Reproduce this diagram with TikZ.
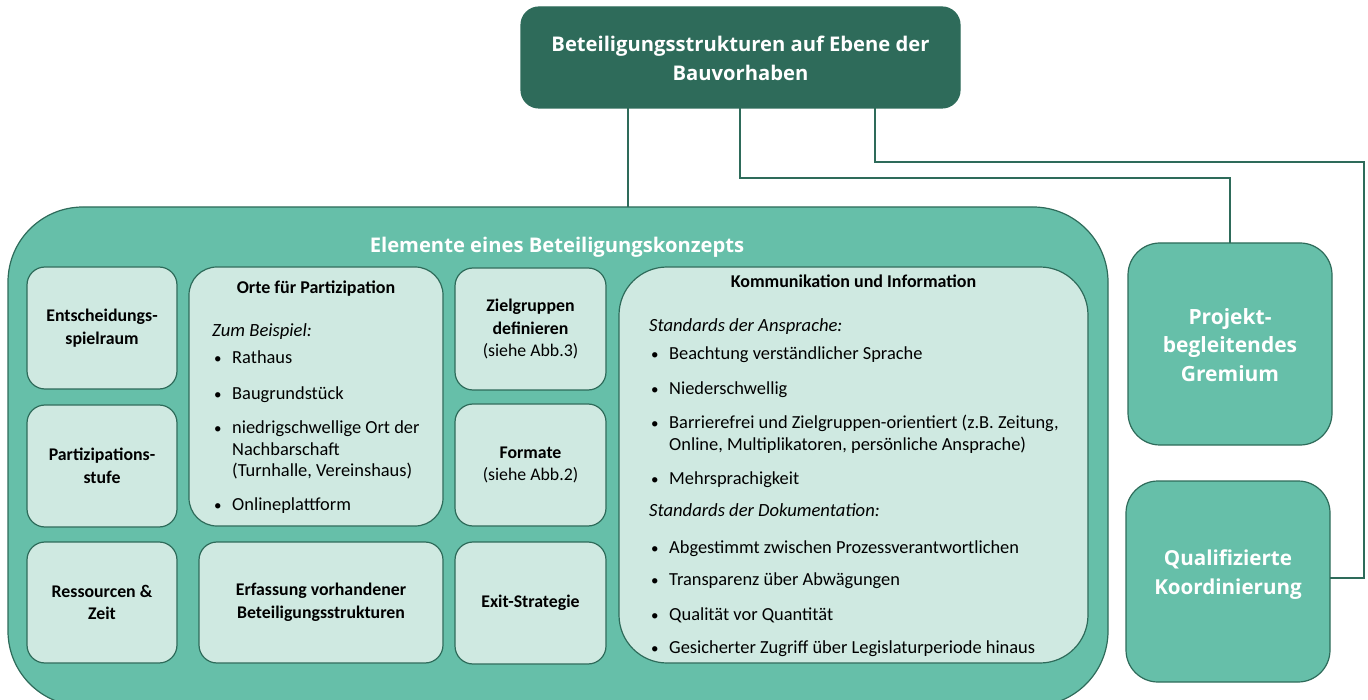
\documentclass[tikz,border=0pt]{standalone}
\usepackage{fontspec}
\setmainfont{Carlito}
\newfontfamily\headfont{Open Sans}
\usetikzlibrary{calc}
\definecolor{dkg}{HTML}{2E6B5A}
\definecolor{mdg}{HTML}{66BFA9}
\definecolor{ltg}{HTML}{CFE9E1}
\begin{document}
\begin{tikzpicture}[x=1pt,y=-1pt,
  base/.style={draw=dkg, line width=1.2pt, inner sep=0pt, outer sep=0pt},
  inbox/.style={base, fill=ltg, rounded corners=18pt, align=center,
    font=\bfseries\fontsize{17.8}{22.5}\selectfont, text=black},
  greenbox/.style={base, fill=mdg, rounded corners=32pt},
  whitetitle/.style={align=center, text=white, inner sep=0pt,
    font=\headfont\bfseries\fontsize{20.2}{29}\selectfont},
  conn/.style={draw=dkg, line width=1.3pt},
  item/.style={anchor=base west, inner sep=0pt, font=\fontsize{18.4}{22}\selectfont},
  bul/.style={anchor=base west, inner sep=0pt, font=\fontsize{15}{22}\selectfont},
  itit/.style={anchor=base west, inner sep=0pt, font=\itshape\fontsize{18.6}{22}\selectfont},
  subtitle/.style={anchor=base, inner sep=0pt, font=\bfseries\fontsize{18}{22}\selectfont}]
\clip (0,0) rectangle (1368,700);
\useasboundingbox (0,0) rectangle (1368,700);

% top box
\node[base, fill=dkg, rounded corners=18pt, minimum width=439pt, minimum height=101pt] (top) at (740.5,57.5) {};
\node[whitetitle] (toptxt) at (740.5,58.5) {Beteiligungsstrukturen auf Ebene der\\Bauvorhaben};

% outer container
\node[base, fill=mdg, rounded corners=75pt, minimum width=1100pt, minimum height=499pt] (outer) at (558,456.5) {};
\node[whitetitle, anchor=base] (outertxt) at (557,253) {Elemente eines Beteiligungskonzepts};

% left column
\node[inbox, minimum width=150pt, minimum height=122pt] (ent) at (102,328) {Entscheidungs-\\spielraum};
\node[inbox, minimum width=150pt, minimum height=122pt] (part) at (102,466) {Partizipations-\\stufe};
\node[inbox, minimum width=150pt, minimum height=121pt] (res) at (102,602.5) {Ressourcen \&\\Zeit};

% Orte
\node[inbox, rounded corners=28pt, minimum width=254pt, minimum height=259pt] (orte) at (316,396.5) {};
\node[subtitle] (ortet) at (316,294) {Orte für Partizipation};
\node[itit] (o0) at (212,336.5) {Zum Beispiel:};
\node[bul] (ob1) at (214,364) {\textbullet};
\node[item] (o1) at (232,364) {Rathaus};
\node[bul] (ob2) at (214,399.5) {\textbullet};
\node[item] (o2) at (232,399.5) {Baugrundstück};
\node[bul] (ob3) at (214,433) {\textbullet};
\node[item] (o3a) at (232,433) {niedrigschwellige Ort der};
\node[item] (o3b) at (232,455) {Nachbarschaft};
\node[item] (o3c) at (232,476) {(Turnhalle, Vereinshaus)};
\node[bul] (ob4) at (214,510.5) {\textbullet};
\node[item] (o4) at (232,510.5) {Onlineplattform};

\node[inbox, minimum width=244pt, minimum height=121pt] (erf) at (321,602.5) {Erfassung vorhandener\\Beteiligungsstrukturen};

% middle column
\node[inbox, minimum width=151pt, minimum height=122pt] (ziel) at (530.5,329) {Zielgruppen\\definieren\\\mdseries(siehe Abb.3)};
\node[inbox, minimum width=151pt, minimum height=122pt] (form) at (530.5,465) {Formate\\\mdseries(siehe Abb.2)};
\node[inbox, minimum width=151pt, minimum height=122pt] (exit) at (530.5,603) {Exit-Strategie};

% Kommunikation
\node[inbox, rounded corners=48pt, minimum width=469pt, minimum height=396pt] (komm) at (853.5,465) {};
\node[subtitle] (kommt) at (853.5,287.5) {Kommunikation und Information};
\node[itit] (k0) at (649,331.5) {Standards der Ansprache:};
\node[bul] (kb1) at (651,359.5) {\textbullet};
\node[item] (k1) at (669,359.5) {Beachtung verständlicher Sprache};
\node[bul] (kb2) at (651,394.5) {\textbullet};
\node[item] (k2) at (669,394.5) {Niederschwellig};
\node[bul] (kb3) at (651,428.5) {\textbullet};
\node[item] (k3a) at (669,428.5) {Barrierefrei und Zielgruppen-orientiert (z.B. Zeitung,};
\node[item] (k3b) at (669,450.5) {Online, Multiplikatoren, persönliche Ansprache)};
\node[bul] (kb4) at (651,484) {\textbullet};
\node[item] (k4) at (669,484) {Mehrsprachigkeit};
\node[itit] (k5) at (649,516.5) {Standards der Dokumentation:};
\node[bul] (kb6) at (651,553) {\textbullet};
\node[item] (k6) at (669,553) {Abgestimmt zwischen Prozessverantwortlichen};
\node[bul] (kb7) at (651,585.5) {\textbullet};
\node[item] (k7) at (669,585.5) {Transparenz über Abwägungen};
\node[bul] (kb8) at (651,620.5) {\textbullet};
\node[item] (k8) at (669,620.5) {Qualität vor Quantität};
\node[bul] (kb9) at (651,653.5) {\textbullet};
\node[item] (k9) at (669,653.5) {Gesicherter Zugriff über Legislaturperiode hinaus};

% right boxes
\node[greenbox, minimum width=204pt, minimum height=202pt] (proj) at (1230,344) {};
\node[whitetitle, font=\headfont\bfseries\fontsize{21}{28.5}\selectfont] (projt) at (1230,345) {Projekt-\\begleitendes\\Gremium};
\node[greenbox, minimum width=204pt, minimum height=201pt] (qual) at (1228,581.5) {};
\node[whitetitle, font=\headfont\bfseries\fontsize{20.6}{29}\selectfont] (qualt) at (1228,574.5) {Qualifizierte\\Koordinierung};

% connectors
\coordinate (cA) at (628,0);
\coordinate (cB) at (740,178);
\coordinate (cC) at (875,162);
\coordinate (cD) at (1364,578);
\draw[conn] (top.south -| cA) -- (outer.north -| cA);
\draw[conn] (top.south -| cB) -- (cB) -| (proj.north);
\draw[conn] (top.south -| cC) -- (cC) -| (cD) -- (qual.east |- cD);
\end{tikzpicture}
\end{document}
